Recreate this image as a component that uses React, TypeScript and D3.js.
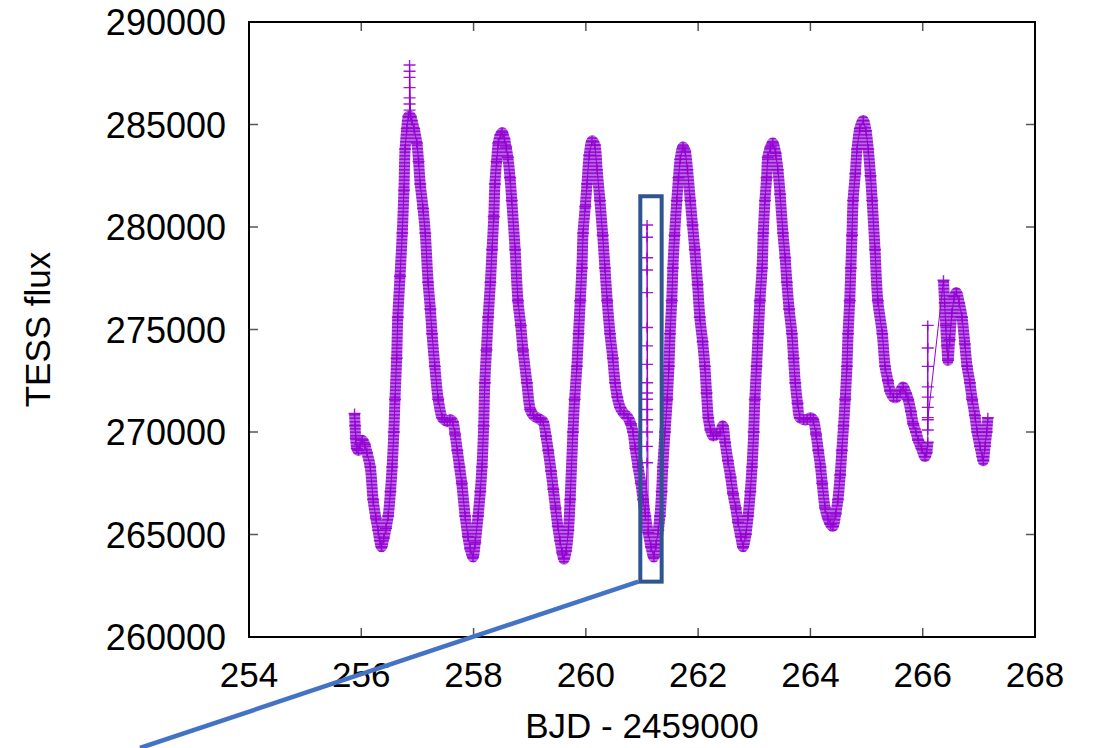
import React from "react";
import * as d3 from "d3";

// ---- Data (BJD - 2459000, TESS flux in thousands) ----
const mainTime: number[] = [
  255.88, 255.89, 255.9, 255.92, 255.95, 255.98, 256.02, 256.06, 256.1, 256.16, 256.21, 256.26, 256.3, 256.33, 256.36,
  256.4, 256.44, 256.48, 256.52, 256.55, 256.58, 256.6, 256.63, 256.65, 256.69, 256.73, 256.76, 256.78, 256.81, 256.84,
  256.88, 256.9, 256.94, 256.99, 257.02, 257.05, 257.1, 257.14, 257.19, 257.23, 257.26, 257.31, 257.37, 257.44, 257.48,
  257.53, 257.58, 257.63, 257.67, 257.71, 257.75, 257.79, 257.85, 257.9, 257.94, 257.99, 258.03, 258.08, 258.12, 258.15,
  258.18, 258.2, 258.23, 258.26, 258.3, 258.33, 258.36, 258.38, 258.41, 258.44, 258.48, 258.51, 258.55, 258.58, 258.61,
  258.65, 258.68, 258.74, 258.79, 258.84, 258.88, 258.95, 259.01, 259.07, 259.13, 259.19, 259.24, 259.29, 259.33, 259.38,
  259.42, 259.46, 259.5, 259.54, 259.58, 259.61, 259.65, 259.69, 259.72, 259.77, 259.8, 259.84, 259.87, 259.9, 259.93,
  259.95, 259.99, 260.02, 260.06, 260.11, 260.16, 260.2, 260.25, 260.3, 260.34, 260.38, 260.43, 260.48, 260.52, 260.56,
  260.61, 260.68, 260.75, 260.8, 260.84, 260.88, 260.93, 260.98, 261.02, 261.06, 261.11, 261.16, 261.21, 261.25, 261.29,
  261.32, 261.35, 261.37, 261.41, 261.45, 261.48, 261.5, 261.53, 261.55, 261.58, 261.62, 261.65, 261.68, 261.73, 261.77,
  261.81, 261.86, 261.9, 261.94, 261.99, 262.03, 262.08, 262.12, 262.15, 262.18, 262.22, 262.27, 262.33, 262.39, 262.44,
  262.48, 262.53, 262.58, 262.62, 262.67, 262.71, 262.76, 262.8, 262.85, 262.89, 262.93, 262.96, 262.99, 263.01, 263.04,
  263.07, 263.1, 263.14, 263.16, 263.19, 263.22, 263.24, 263.29, 263.33, 263.38, 263.42, 263.46, 263.51, 263.55, 263.58,
  263.62, 263.67, 263.7, 263.73, 263.77, 263.81, 263.88, 263.94, 264.0, 264.05, 264.1, 264.14, 264.18, 264.21, 264.26,
  264.31, 264.36, 264.4, 264.45, 264.49, 264.53, 264.56, 264.59, 264.62, 264.65, 264.67, 264.7, 264.72, 264.74, 264.76,
  264.8, 264.83, 264.88, 264.94, 264.99, 265.03, 265.07, 265.1, 265.15, 265.2, 265.28, 265.33, 265.38, 265.42, 265.48,
  265.54, 265.6, 265.65, 265.7, 265.74, 265.79, 265.83, 265.88, 265.92, 265.98, 266.04, 266.07, 266.09,
  266.37, 266.39, 266.41, 266.43, 266.45, 266.48, 266.52, 266.56, 266.6, 266.65, 266.7, 266.75, 266.79, 266.84, 266.88,
  266.93, 266.97, 267.02, 267.06, 267.08, 267.11, 267.14, 267.16,
];
const mainFlux: number[] = [
  270.9, 270.3, 269.7, 269.2, 269.1, 269.4, 269.6, 269.4, 269.0, 268.3, 266.7, 265.8, 265.2, 264.7, 264.4,
  264.8, 265.3, 265.9, 267.1, 268.3, 270.0, 271.6, 273.6, 275.6, 277.6, 279.7, 281.8, 283.8, 284.8, 285.4,
  285.4, 285.2, 284.8, 284.1, 283.2, 282.1, 280.9, 279.7, 277.3, 276.0, 274.8, 273.2, 271.6, 270.7, 270.6,
  270.5, 270.6, 270.5, 269.9, 269.1, 268.3, 267.5, 265.9, 264.9, 264.3, 263.9, 264.6, 265.9, 267.1, 268.3,
  270.3, 272.4, 274.0, 275.6, 277.3, 278.9, 280.5, 282.1, 283.2, 284.1, 284.5, 284.6, 284.3, 283.9, 283.4,
  282.4, 281.3, 278.9, 276.4, 275.2, 274.0, 272.4, 271.1, 270.8, 270.7, 270.6, 270.5, 269.8, 269.1, 268.1,
  267.2, 266.3, 265.4, 264.7, 264.1, 263.8, 264.2, 265.2, 266.7, 270.0, 271.6, 273.2, 274.8, 276.4, 278.0,
  279.7, 281.0, 282.1, 283.5, 284.2, 284.0, 282.8, 281.3, 279.6, 278.0, 276.4, 274.8, 273.6, 272.4, 271.7,
  271.2, 270.9, 270.7, 270.4, 270.0, 269.2, 268.3, 267.5, 266.7, 265.9, 265.1, 264.4, 263.9, 264.5, 265.2,
  265.9, 267.1, 268.3, 270.0, 271.6, 273.2, 274.8, 276.4, 278.0, 279.6, 281.3, 282.4, 283.3, 283.9, 283.7,
  282.8, 281.3, 280.1, 278.9, 277.2, 275.6, 274.4, 273.2, 271.9, 270.7, 270.1, 269.8, 269.9, 270.0, 270.3,
  269.5, 268.6, 267.8, 267.0, 266.3, 265.6, 264.9, 264.4, 265.0, 265.9, 267.1, 268.3, 270.0, 271.6, 273.2,
  274.8, 276.4, 278.0, 279.7, 281.3, 282.4, 283.4, 283.9, 284.1, 283.6, 282.8, 281.6, 279.7, 278.5, 277.3,
  276.0, 274.8, 273.6, 272.4, 271.4, 270.7, 270.6, 270.6, 270.7, 270.6, 269.9, 269.1, 268.3, 267.5, 266.3,
  265.8, 265.5, 265.4, 266.0, 266.7, 267.9, 269.1, 270.3, 271.6, 273.2, 274.8, 276.4, 278.0, 279.6, 281.3,
  282.6, 283.8, 284.8, 285.2, 284.7, 283.8, 282.5, 281.3, 278.9, 276.4, 274.8, 273.2, 272.5, 272.0, 271.7,
  271.7, 272.0, 272.2, 271.9, 271.6, 271.0, 270.4, 270.0, 269.6, 269.2, 268.8, 269.0, 269.5,
  277.4, 276.3, 275.2, 274.2, 273.5, 274.5, 275.8, 276.6, 276.8, 276.3, 275.6, 274.3, 273.2, 272.4, 271.6,
  270.8, 270.0, 269.3, 268.8, 268.6, 269.3, 270.0, 270.7,
];
// Outlying single-cadence points (flare and scattered points)
const outlierTime: number[] = [
  256.86, 256.86, 256.86, 256.86, 256.86, 256.86, 256.86,
  261.09, 261.09, 261.09, 261.09, 261.09, 261.09, 261.09, 261.09, 261.09, 261.09, 261.09, 261.09, 261.09, 261.09, 261.09, 261.09,
  266.09, 266.09, 266.09, 266.09, 266.09, 266.09, 266.09, 266.09, 266.09,
];
const outlierFlux: number[] = [
  285.7, 286.0, 286.3, 286.8, 287.3, 287.6, 287.9,
  268.5, 269.3, 270.0, 270.6, 271.1, 271.6, 271.9, 272.4, 273.3, 274.2, 275.1, 276.8, 277.9, 278.5, 279.5, 280.1,
  275.2, 274.1, 273.2, 272.2, 271.7, 271.2, 270.7, 270.1, 270.6,
];

const xTicks: number[] = [254, 256, 258, 260, 262, 264, 266, 268];
const yTicks: number[] = [260000, 265000, 270000, 275000, 280000, 285000, 290000];

const W = 1101;
const H = 748;
const M = { left: 249, right: 1035, top: 22, bottom: 637 };
const COLOR = "#9400d3";
const FONT = "'Liberation Sans', Arial, Helvetica, sans-serif";

export default function App() {
  const x = d3.scaleLinear().domain([254, 268]).range([M.left, M.right]);
  const y = d3.scaleLinear().domain([260000, 290000]).range([M.bottom, M.top]);

  const main = mainTime.map((t, i) => ({ t, f: mainFlux[i] * 1000 }));
  const outl = outlierTime.map((t, i) => ({ t, f: outlierFlux[i] * 1000 }));

  const segments: { t: number; f: number }[][] = [];
  main.forEach((p, i) => {
    if (i === 0 || p.t - main[i - 1].t > 0.15) segments.push([]);
    segments[segments.length - 1].push(p);
  });

  const band = d3
    .line<{ t: number; f: number }>()
    .x((d) => x(d.t))
    .y((d) => y(d.f))
    .curve(d3.curveCatmullRom.alpha(0.5));

  const thin = d3
    .line<{ t: number; f: number }>()
    .x((d) => x(d.t))
    .y((d) => y(d.f));

  const all = [...main, ...outl].sort((a, b) => a.t - b.t);

  const plus = (d: { t: number; f: number }) => {
    const px = x(d.t);
    const py = y(d.f);
    return `M${px - 6},${py}H${px + 6}M${px},${py - 5}V${py + 5}`;
  };

  const boxX0 = x(260.97);
  const boxX1 = x(261.35);
  const boxY0 = y(281500);
  const boxY1 = y(262700);

  return (
    <svg
      width={W}
      height={H}
      style={{ position: "absolute", left: 0, top: 0, background: "#fff" }}
      fontFamily={FONT}
    >
      <defs>
        <clipPath id="plotClip">
          <rect x={M.left} y={M.top} width={M.right - M.left} height={M.bottom - M.top} />
        </clipPath>
        <pattern id="stripes" patternUnits="userSpaceOnUse" width={12} height={3.5}>
          <rect width={12} height={3.5} fill="#b86ae0" />
          <rect y={1} width={12} height={1.5} fill={COLOR} />
        </pattern>
      </defs>

      {/* ticks (inward, mirrored) */}
      <g stroke="#555" strokeWidth={1.5}>
        {xTicks.map((t) => (
          <g key={"xt" + t}>
            <line x1={x(t)} x2={x(t)} y1={M.bottom} y2={M.bottom - 9} />
            <line x1={x(t)} x2={x(t)} y1={M.top} y2={M.top + 9} />
          </g>
        ))}
        {yTicks.map((v) => (
          <g key={"yt" + v}>
            <line x1={M.left} x2={M.left + 9} y1={y(v)} y2={y(v)} />
            <line x1={M.right} x2={M.right - 9} y1={y(v)} y2={y(v)} />
          </g>
        ))}
      </g>

      {/* data */}
      <g clipPath="url(#plotClip)">
        {segments.map((s, i) => (
          <path
            key={"band" + i}
            d={band(s) || ""}
            fill="none"
            stroke="url(#stripes)"
            strokeWidth={11}
            strokeLinejoin="round"
          />
        ))}
        <path d={thin(all) || ""} fill="none" stroke={COLOR} strokeWidth={1} />
        <path d={all.map(plus).join("")} fill="none" stroke={COLOR} strokeWidth={1.4} strokeOpacity={0.9} />
      </g>

      {/* border */}
      <rect
        x={M.left}
        y={M.top}
        width={M.right - M.left}
        height={M.bottom - M.top}
        fill="none"
        stroke="#000"
        strokeWidth={2}
      />

      {/* tick labels */}
      {xTicks.map((t) => (
        <text key={"xl" + t} x={x(t)} y={687} textAnchor="middle" fontSize={35} fill="#000">
          {t}
        </text>
      ))}
      {yTicks.map((v) => (
        <text key={"yl" + v} x={226} y={y(v) + 13} textAnchor="end" fontSize={36} fill="#000">
          {v}
        </text>
      ))}

      {/* axis titles */}
      <text x={642} y={738} textAnchor="middle" fontSize={35} fill="#000">
        BJD - 2459000
      </text>
      <text
        transform={`translate(50, ${(M.top + M.bottom) / 2}) rotate(-90)`}
        textAnchor="middle"
        fontSize={35}
        fill="#000"
      >
        TESS flux
      </text>

      {/* annotation box and pointer line */}
      <line x1={boxX0 - 2} y1={boxY1} x2={140} y2={H} stroke="#4472c4" strokeWidth={4.5} />
      <rect
        x={boxX0}
        y={boxY0}
        width={boxX1 - boxX0}
        height={boxY1 - boxY0}
        fill="none"
        stroke="#2f5590"
        strokeWidth={4}
      />
    </svg>
  );
}
